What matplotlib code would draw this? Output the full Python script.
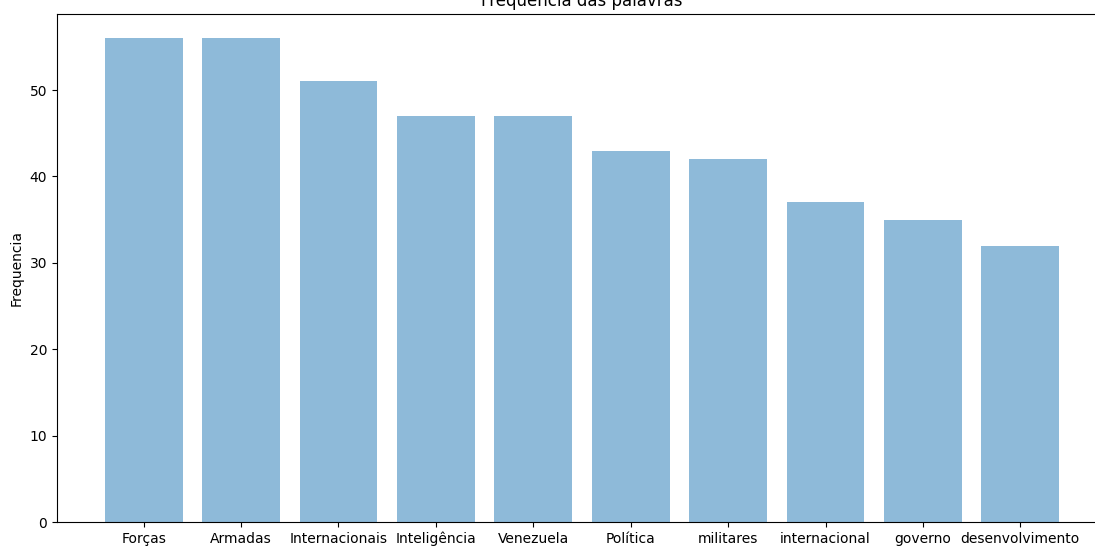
import matplotlib
matplotlib.use("Agg")
import matplotlib.pyplot as plt

palavras = ['Forças', 'Armadas', 'Internacionais', 'Inteligência', 'Venezuela',
            'Política', 'militares', 'internacional', 'governo', 'desenvolvimento']
frequencias = [56, 56, 51, 47, 47, 43, 42, 37, 35, 32]

fig = plt.figure(figsize=(10.95, 5.47), dpi=100)
# the original picture was cropped: the right spine and title top fall outside
ax = fig.add_axes([57 / 1095, 25 / 547, 1050 / 1095, 508 / 547])

ax.bar(range(len(palavras)), frequencias, align='center', alpha=0.5)
ax.set_xticks(range(len(palavras)))
ax.set_xticklabels(palavras)
ax.set_ylabel('Frequencia')
ax.set_title('Frequencia das palavras')

fig.savefig('out.png', dpi=100)
